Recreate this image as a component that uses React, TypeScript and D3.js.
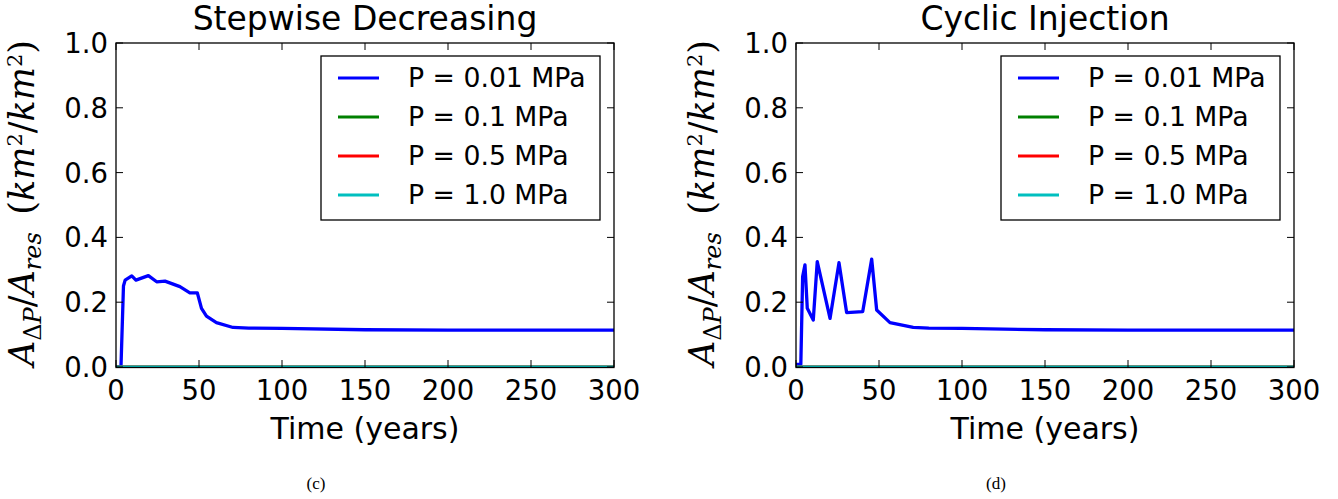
import * as d3 from "d3";

// time axis (years) and area ratio for each run
const stepTimes = [0, 3, 4.5, 5.5, 9.5, 12, 19.5, 24.5, 29.5, 38.5, 44.5, 49, 51.5, 54.5, 60.5, 70.5, 80, 100, 150, 200, 250, 300];
const stepP001 = [0, 0, 0.25, 0.268, 0.281, 0.268, 0.282, 0.263, 0.265, 0.248, 0.229, 0.229, 0.181, 0.157, 0.137, 0.122, 0.12, 0.119, 0.115, 0.114, 0.114, 0.114];

const cycTimes = [0, 2.9, 4.0, 5.4, 6.8, 10.4, 12.8, 20.5, 25.9, 30.5, 40.2, 45.6, 48.6, 56.6, 70.6, 80, 100, 150, 200, 250, 300];
const cycP001 = [0.008, 0.008, 0.279, 0.315, 0.181, 0.145, 0.325, 0.15, 0.322, 0.168, 0.171, 0.333, 0.176, 0.137, 0.122, 0.12, 0.119, 0.115, 0.114, 0.114, 0.114];

// the higher pressure runs stay at zero the whole time
const flatTimes = [0, 300];
const p01Values = [0, 0];
const p05Values = [0, 0];
const p10Values = [0, 0];

const legendLabels = ["P = 0.01 MPa", "P = 0.1 MPa", "P = 0.5 MPa", "P = 1.0 MPa"];
const colors = ["#0000ff", "#008000", "#ff0000", "#00bfbf"];
const xTicks = [0, 50, 100, 150, 200, 250, 300];
const yTicks = [0, 0.2, 0.4, 0.6, 0.8, 1.0];

const W = 1338;
const H = 499;
const font = "'DejaVu Sans', sans-serif";

type Series = { times: number[]; values: number[] };

function Panel({ ox, title, tag, series, id }: { ox: number; title: string; tag: string; series: Series[]; id: string }) {
  const left = ox;
  const right = ox + 498;
  const top = 43;
  const bottom = 367;
  const x = d3.scaleLinear().domain([0, 300]).range([left, right]);
  const y = d3.scaleLinear().domain([0, 1]).range([bottom, top]);
  const line = d3
    .line<[number, number]>()
    .x((d) => x(d[0]))
    .y((d) => y(d[1]));
  const tickLen = 7;
  const legX = ox + 205;
  const legRows = [78, 117, 156, 195];

  return (
    <g>
      <defs>
        <clipPath id={id}>
          <rect x={left} y={top} width={right - left} height={bottom - top} />
        </clipPath>
      </defs>

      <g clipPath={`url(#${id})`}>
        {series.map((s, i) => (
          <path
            key={i}
            d={line(s.times.map((t, j) => [t, s.values[j]] as [number, number])) || ""}
            fill="none"
            stroke={colors[i]}
            strokeWidth={i === 0 ? 3.3 : 3}
            strokeLinejoin="round"
          />
        ))}
      </g>

      {/* ticks, inward on all four sides */}
      {xTicks.map((t) => (
        <g key={"x" + t}>
          <line x1={x(t)} x2={x(t)} y1={bottom} y2={bottom - tickLen} stroke="#000" strokeWidth={1} />
          <line x1={x(t)} x2={x(t)} y1={top} y2={top + tickLen} stroke="#000" strokeWidth={1} />
          <text x={x(t)} y={400} textAnchor="middle" fontFamily={font} fontSize={27.5}>
            {t}
          </text>
        </g>
      ))}
      {yTicks.map((t) => (
        <g key={"y" + t}>
          <line x1={left} x2={left + tickLen} y1={y(t)} y2={y(t)} stroke="#000" strokeWidth={1} />
          <line x1={right} x2={right - tickLen} y1={y(t)} y2={y(t)} stroke="#000" strokeWidth={1} />
          <text x={left - 8} y={y(t) + 10} textAnchor="end" fontFamily={font} fontSize={27.5}>
            {t.toFixed(1)}
          </text>
        </g>
      ))}

      <rect x={left} y={top} width={right - left} height={bottom - top + 0.5} fill="none" stroke="#000" strokeWidth={1.3} />

      {/* legend */}
      <rect x={legX} y={56} width={279} height={164} fill="#fff" stroke="#000" strokeWidth={1.3} />
      {legendLabels.map((lab, i) => (
        <g key={lab}>
          <line x1={legX + 17} x2={legX + 58} y1={legRows[i]} y2={legRows[i]} stroke={colors[i]} strokeWidth={3} />
          <text x={legX + 87} y={legRows[i] + 9} fontFamily={font} fontSize={26.7}>
            {lab}
          </text>
        </g>
      ))}

      <text x={(left + right) / 2} y={30} textAnchor="middle" fontFamily={font} fontSize={33}>
        {title}
      </text>
      <text x={(left + right) / 2} y={439} textAnchor="middle" fontFamily={font} fontSize={30}>
        Time (years)
      </text>

      {/* y label, mathtext style */}
      <text
        transform={`translate(${ox - 82},203) rotate(-90)`}
        textAnchor="middle"
        fontFamily="'DejaVu Serif', serif"
        fontSize={35}
      >
        <tspan fontStyle="italic">A</tspan>
        <tspan fontSize={24} dy={7}>Δ</tspan>
        <tspan fontSize={24} fontStyle="italic">P</tspan>
        <tspan dy={-7}>/</tspan>
        <tspan fontStyle="italic">A</tspan>
        <tspan fontSize={24} fontStyle="italic" dy={7}>res</tspan>
        <tspan dy={-7}>{"\u2002("}</tspan>
        <tspan fontStyle="italic">km</tspan>
        <tspan fontSize={21} dy={-12}>2</tspan>
        <tspan dy={12}>/</tspan>
        <tspan fontStyle="italic">km</tspan>
        <tspan fontSize={21} dy={-12}>2</tspan>
        <tspan dy={12}>)</tspan>
      </text>

      <text x={ox + 200} y={489} textAnchor="middle" fontFamily="'Liberation Serif', serif" fontSize={17}>
        {tag}
      </text>
    </g>
  );
}

export default function App() {
  const stepSeries: Series[] = [
    { times: stepTimes, values: stepP001 },
    { times: flatTimes, values: p01Values },
    { times: flatTimes, values: p05Values },
    { times: flatTimes, values: p10Values },
  ];
  const cycSeries: Series[] = [
    { times: cycTimes, values: cycP001 },
    { times: flatTimes, values: p01Values },
    { times: flatTimes, values: p05Values },
    { times: flatTimes, values: p10Values },
  ];
  return (
    <svg width={W} height={H} style={{ position: "absolute", left: 0, top: 0, background: "#fff" }}>
      <rect width={W} height={H} fill="#fff" />
      <Panel ox={116} title="Stepwise Decreasing" tag="(c)" series={stepSeries} id="clipC" />
      <Panel ox={796} title="Cyclic Injection" tag="(d)" series={cycSeries} id="clipD" />
    </svg>
  );
}
